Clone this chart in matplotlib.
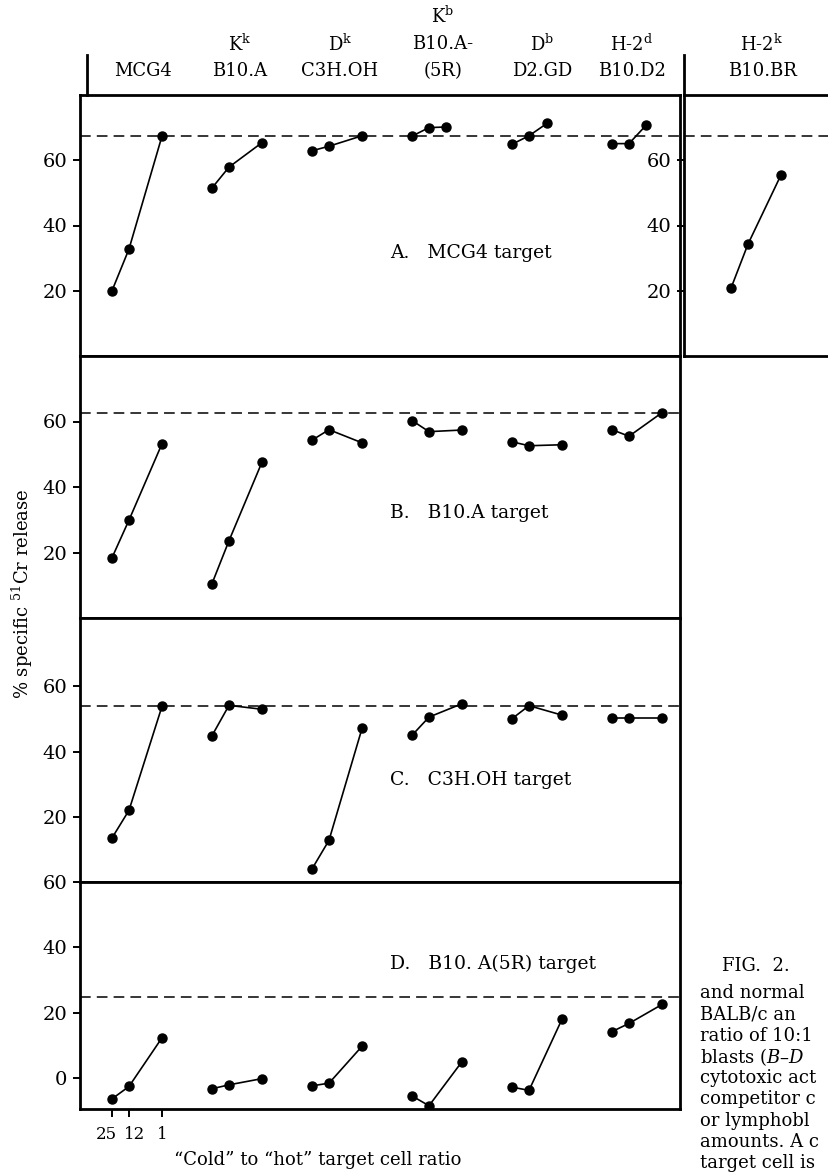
import matplotlib
matplotlib.use('Agg')
import matplotlib.pyplot as plt
from matplotlib.lines import Line2D

plt.rcParams['font.family'] = ['DejaVu Serif']
plt.rcParams['mathtext.fontset'] = 'dejavuserif'

# ---- data ----
strains = ['MCG4', 'B10.A', 'C3H.OH', '(5R)', 'D2.GD', 'B10.D2']
haplo = ['', r'K$^{\mathrm{k}}$', r'D$^{\mathrm{k}}$', 'B10.A-', r'D$^{\mathrm{b}}$', r'H-2$^{\mathrm{d}}$']
ratio_labels = ['25', '12', '1']
ratio_pos = [0.0, 0.17, 0.5]
a_third_pos = [0.5, 0.5, 0.5, 0.34, 0.35, 0.34]

panel_a = [[20.0, 32.8, 67.4], [51.5, 57.9, 65.4], [62.9, 64.3, 67.5],
           [67.4, 70.0, 70.2], [64.9, 67.5, 71.3], [65.1, 65.1, 70.7]]
panel_a_br = [20.8, 34.3, 55.5]
panel_b = [[18.4, 29.9, 53.2], [10.5, 23.6, 47.6], [54.3, 57.5, 53.5],
           [60.3, 56.9, 57.4], [53.8, 52.6, 52.9], [57.5, 55.5, 62.7]]
panel_c = [[13.5, 22.0, 53.9], [44.9, 54.2, 53.0], [4.0, 12.8, 47.1],
           [45.0, 50.6, 54.7], [50.1, 54.1, 51.2], [50.3, 50.3, 50.3]]
panel_d = [[-6.4, -2.6, 12.3], [-3.3, -2.1, -0.2], [-2.4, -1.6, 9.7],
           [-5.5, -8.5, 5.0], [-2.8, -3.8, 18.0], [14.2, 16.7, 22.5]]
baselines = [67.5, 62.5, 53.9, 24.7]
titles = ['A.   MCG4 target', 'B.   B10.A target', 'C.   C3H.OH target', 'D.   B10. A(5R) target']
title_y = [31.5, 32.2, 31.3, 34.8]

W, H = 829, 1172
fig = plt.figure(figsize=(W / 100, H / 100), dpi=100)


def box(x0, y0, x1, y1):
    # pixel box (top-left origin) -> figure fraction rect
    return [x0 / W, 1 - y1 / H, (x1 - x0) / W, (y1 - y0) / H]


def style(ax, yt):
    for s in ax.spines.values():
        s.set_linewidth(2.0)
    ax.set_yticks(yt)
    ax.set_yticklabels([str(v) for v in yt])
    ax.tick_params(axis='y', direction='out', length=5, width=1.4, pad=4, labelsize=14)
    ax.set_xticks([])


frames = [(95, 356, (0, 80), [20, 40, 60]),
          (356, 618, (0, 80), [20, 40, 60]),
          (618, 882, (0, 81), [20, 40, 60]),
          (882, 1109, (-9.5, 60), [0, 20, 40, 60])]
data = [panel_a, panel_b, panel_c, panel_d]

for k, (top, bot, ylim, yt) in enumerate(frames):
    ax = fig.add_axes(box(80, top, 680, bot))
    ax.set_xlim(-0.32, 5.68)
    ax.set_ylim(*ylim)
    style(ax, yt)
    ax.axhline(baselines[k], color='black', lw=1.1, ls=(0, (7, 4)))
    for g, vals in enumerate(data[k]):
        pos = list(ratio_pos)
        if k == 0:
            pos[2] = a_third_pos[g]
        xs = [g + p for p in pos]
        ax.plot(xs, vals, color='black', lw=1.2, marker='o', ms=6.5)
    ax.text(2.78, title_y[k], titles[k], fontsize=13.5, ha='left', va='center')
    if k == 3:
        ax.set_xticks(ratio_pos)
        ax.set_xticklabels([])
        ax.tick_params(axis='x', direction='out', length=6, width=1.4)
        nudges = [-4, 4, 0]
        for p, lab, dx in zip(ratio_pos, ratio_labels, nudges):
            ax.annotate(lab, xy=(p, 0), xycoords=('data', 'axes fraction'),
                        xytext=(dx, -12), textcoords='offset points',
                        ha='center', va='top', fontsize=12)

# B10.BR panel (cut by the page edge)
axr = fig.add_axes(box(684, 95, 900, 356))
axr.set_xlim(-0.47, 1.69)
axr.set_ylim(0, 80)
style(axr, [20, 40, 60])
axr.axhline(baselines[0], color='black', lw=1.1, ls=(0, (7, 4)))
axr.plot(ratio_pos, panel_a_br, color='black', lw=1.2, marker='o', ms=6.5)

# header
fig.add_artist(Line2D([87 / W, 87 / W], [1 - 55 / H, 1 - 95 / H], color='black', lw=2.0))
fig.add_artist(Line2D([684 / W, 684 / W], [1 - 55 / H, 1 - 95 / H], color='black', lw=2.0))
centers = [143, 240, 340, 443, 542, 632]
for c, s, h in zip(centers, strains, haplo):
    fig.text(c / W, 1 - 71 / H, s, fontsize=13, ha='center', va='center')
    if h:
        fig.text(c / W, 1 - 44 / H, h, fontsize=13, ha='center', va='center')
fig.text(443 / W, 1 - 16 / H, r'K$^{\mathrm{b}}$', fontsize=13, ha='center', va='center')
fig.text(762 / W, 1 - 71 / H, 'B10.BR', fontsize=13, ha='center', va='center')
fig.text(762 / W, 1 - 44 / H, r'H-2$^{\mathrm{k}}$', fontsize=13, ha='center', va='center')

# axis labels
fig.text(22 / W, 1 - 594 / H, r'% specific $^{51}$Cr release', rotation=90,
         fontsize=13, ha='center', va='center')
fig.text(318 / W, 1 - 1160 / H, '\u201cCold\u201d to \u201chot\u201d target cell ratio',
         fontsize=13, ha='center', va='center')

# caption fragment on the right (the page edge cuts the rest)
fig.text(722 / W, 1 - 966 / H, 'FIG.  2.', fontsize=13, ha='left', va='center')
caption = ['and normal', 'BALB/c an', 'ratio of 10:1', 'blasts ($\\mathit{B}$\u2013$\\mathit{D}$',
           'cytotoxic act', 'competitor c', 'or lymphobl', 'amounts. A c', 'target cell is']
for i, line in enumerate(caption):
    fig.text(700 / W, 1 - (993 + 21.3 * i) / H, line, fontsize=13, ha='left', va='center')

fig.savefig('out.png', dpi=100)
